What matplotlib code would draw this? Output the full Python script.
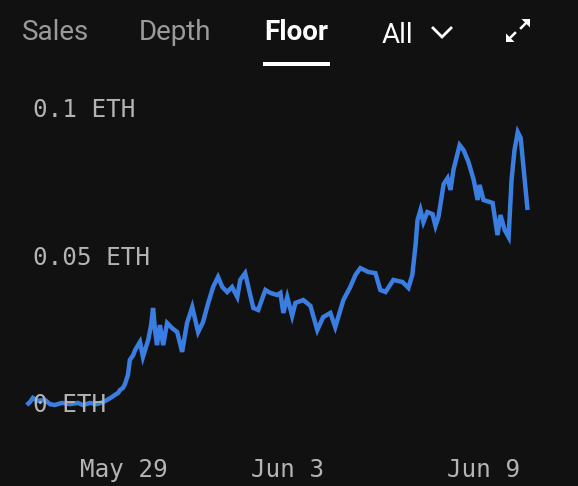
import matplotlib
matplotlib.use('Agg')
import matplotlib.pyplot as plt
import pandas as pd
from matplotlib.patches import Polygon, Rectangle
from matplotlib.lines import Line2D
from matplotlib.transforms import blended_transform_factory

# ---------------- data ----------------
start_date = '2022-05-26'
day_offsets = [0.02, 0.12, 0.21, 0.36, 0.58, 0.73, 0.88, 1.10, 1.34, 1.59,
               1.74, 1.96, 2.17, 2.36, 2.48, 2.63, 2.72, 2.82, 2.88, 2.97,
               3.03, 3.12, 3.18, 3.28, 3.34, 3.43, 3.49, 3.58, 3.74, 3.83,
               3.89, 3.95, 4.01, 4.10, 4.20, 4.32, 4.47, 4.63, 4.78, 4.93,
               5.09, 5.27, 5.42, 5.58, 5.73, 5.88, 6.01, 6.16, 6.31, 6.47,
               6.56, 6.71, 6.83, 6.96, 7.11, 7.33, 7.48, 7.69, 7.79, 7.88,
               8.00, 8.15, 8.25, 8.49, 8.71, 8.92, 9.10, 9.32, 9.47, 9.72,
               9.93, 10.09, 10.24, 10.48, 10.70, 10.85, 11.01, 11.25, 11.53, 11.71,
               11.83, 11.93, 11.99, 12.08, 12.17, 12.29, 12.45, 12.54, 12.63, 12.79,
               12.91, 13.00, 13.09, 13.28, 13.40, 13.55, 13.71, 13.83, 13.89, 14.01,
               14.29, 14.44, 14.53, 14.66, 14.78, 14.87, 14.96, 15.06, 15.15, 15.36]
floor_eth = [0.0000, 0.0010, 0.0024, 0.0014, 0.0017, 0.0003, 0.0000, 0.0007, 0.0003, 0.0007,
             0.0000, 0.0007, 0.0003, 0.0010, 0.0017, 0.0027, 0.0034, 0.0041, 0.0051, 0.0058,
             0.0071, 0.0102, 0.0153, 0.0169, 0.0186, 0.0203, 0.0214, 0.0163, 0.0220, 0.0271,
             0.0329, 0.0254, 0.0203, 0.0271, 0.0203, 0.0278, 0.0261, 0.0247, 0.0180, 0.0278,
             0.0332, 0.0247, 0.0281, 0.0346, 0.0400, 0.0434, 0.0400, 0.0383, 0.0400, 0.0366,
             0.0424, 0.0447, 0.0390, 0.0329, 0.0322, 0.0390, 0.0380, 0.0373, 0.0380, 0.0312,
             0.0366, 0.0302, 0.0346, 0.0356, 0.0336, 0.0254, 0.0298, 0.0312, 0.0264, 0.0356,
             0.0400, 0.0441, 0.0464, 0.0451, 0.0447, 0.0390, 0.0383, 0.0424, 0.0417, 0.0397,
             0.0441, 0.0542, 0.0627, 0.0661, 0.0620, 0.0654, 0.0647, 0.0607, 0.0637, 0.0749,
             0.0769, 0.0729, 0.0797, 0.0881, 0.0864, 0.0824, 0.0763, 0.0695, 0.0746, 0.0695,
             0.0685, 0.0576, 0.0644, 0.0593, 0.0569, 0.0763, 0.0864, 0.0925, 0.0905, 0.0661]
y_ticks = [0.0, 0.05, 0.1]
y_tick_labels = ['0 ETH', '0.05 ETH', '0.1 ETH']
x_tick_dates = ['2022-05-29', '2022-06-03', '2022-06-09']
x_tick_labels = ['May 29', 'Jun 3', 'Jun 9']
tab_labels = ['Sales', 'Depth', 'Floor']
range_label = 'All'

# ---------------- style ----------------
W, H = 578, 486
BG = '#111111'
LINE = '#3a7ee2'
GREY_TAB = '#9a9a9a'
GREY_AX = '#b4b4b4'
WHITE = '#ffffff'
MONO = 'DejaVu Sans Mono'
SANS = 'Roboto'


def fx(px):
    return px / W


def fy(py):
    return 1 - py / H


fig = plt.figure(figsize=(W / 100, H / 100), dpi=100, facecolor=BG)
ax = fig.add_axes([0, 0, 1, 1])
ax.set_facecolor(BG)
ax.axis('off')

start = pd.Timestamp(start_date)
times = start + pd.to_timedelta(day_offsets, unit='D')
ax.plot(times, floor_eth, color=LINE, lw=3.2, solid_joinstyle='miter',
        solid_capstyle='butt', zorder=2)

ax.set_xlim(start + pd.Timedelta(days=-0.798), start + pd.Timedelta(days=16.905))
ax.set_ylim(-81 / 2950, 405 / 2950)

# y labels inside plot
ty = blended_transform_factory(ax.transAxes, ax.transData)
for v, lab in zip(y_ticks, y_tick_labels):
    ax.text(fx(33), v, lab, transform=ty, ha='left', va='center',
            family=MONO, fontsize=17.5, color=GREY_AX, zorder=3)

# x labels
tx = blended_transform_factory(ax.transData, fig.transFigure)
for d, lab in zip(x_tick_dates, x_tick_labels):
    ax.text(pd.Timestamp(d), fy(470), lab, transform=tx, ha='center', va='center',
            family=MONO, fontsize=17.5, color=GREY_AX)

# tabs
tab_x = [22, 139, 264]
for i, (lab, x) in enumerate(zip(tab_labels, tab_x)):
    active = (lab == 'Floor')
    fig.text(fx(x), fy(40), lab, ha='left', va='baseline', family=SANS,
             fontsize=20, color=WHITE if active else GREY_TAB,
             fontweight='bold' if active else 'normal')
fig.add_artist(Rectangle((fx(263), fy(66)), 67 / W, 3.5 / H,
                         transform=fig.transFigure, color=WHITE, lw=0))

fig.text(fx(382), fy(43), range_label, ha='left', va='baseline', family=SANS,
         fontsize=20, color=WHITE)
# chevron
fig.add_artist(Line2D([fx(433), fx(442), fx(451)], [fy(28), fy(37), fy(28)],
                      transform=fig.transFigure, color=WHITE, lw=2.0,
                      solid_joinstyle='miter'))
# expand icon
fig.add_artist(Polygon([(fx(530), fy(19)), (fx(521.5), fy(19)), (fx(530), fy(27.5))],
                       closed=True, transform=fig.transFigure, color=WHITE, lw=0))
fig.add_artist(Line2D([fx(527), fx(521)], [fy(22), fy(28)],
                      transform=fig.transFigure, color=WHITE, lw=1.8))
fig.add_artist(Polygon([(fx(506), fy(42)), (fx(514.5), fy(42)), (fx(506), fy(33.5))],
                       closed=True, transform=fig.transFigure, color=WHITE, lw=0))
fig.add_artist(Line2D([fx(509), fx(515)], [fy(39), fy(33)],
                      transform=fig.transFigure, color=WHITE, lw=1.8))

fig.savefig('out.png', dpi=100, facecolor=BG)
